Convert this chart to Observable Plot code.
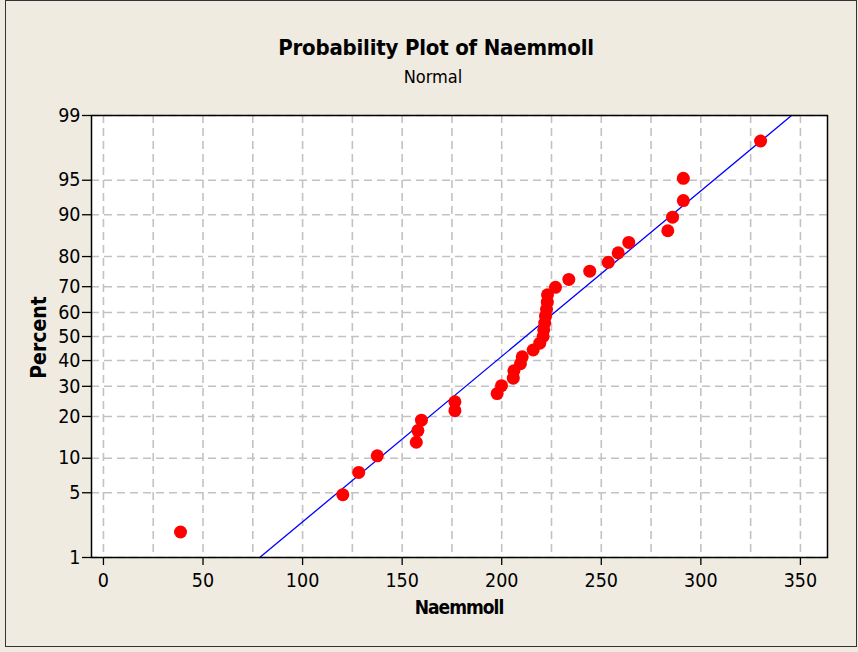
<!DOCTYPE html>
<html>
<head>
<meta charset="utf-8">
<script src="https://cdn.jsdelivr.net/npm/d3@7"></script>
<script src="https://cdn.jsdelivr.net/npm/@observablehq/plot@0.6"></script>
<style>
  html, body { margin: 0; padding: 0; background: #efebe1; width: 858px; height: 652px; overflow: hidden; }
  #page { position: relative; width: 858px; height: 652px; }
  #border { position: absolute; left: 5px; top: 0px; width: 852px; height: 647px; box-sizing: border-box; border: 1.5px solid #333; }
  .t { position: absolute; font-family: "DejaVu Sans Condensed", "DejaVu Sans", sans-serif; font-stretch: condensed; color: #000; white-space: nowrap; text-align: center; }
  #title { left: 236px; width: 400px; top: 37px; font-size: 22px; line-height: 22px; font-weight: bold; letter-spacing: -0.2px; }
  #subtitle { left: 333px; width: 200px; top: 68px; font-size: 18px; line-height: 18px; }
  #xlabel { left: 359px; width: 200px; top: 598px; font-size: 19px; line-height: 19px; font-weight: bold; letter-spacing: -1px; }
  #ylabel { left: -61px; width: 200px; top: 327px; font-size: 21px; line-height: 21px; font-weight: bold; transform: rotate(-90deg); transform-origin: 100px 10.5px; }
  #chart { position: absolute; left: 0; top: 0; }
</style>
</head>
<body>
<div id="page">
  <div id="border"></div>
  <div id="chart"></div>
  <div class="t" id="title">Probability Plot of Naemmoll</div>
  <div class="t" id="subtitle">Normal</div>
  <div class="t" id="xlabel">Naemmoll</div>
  <div class="t" id="ylabel">Percent</div>
</div>
<script>
// Data
const naemmoll = [38.7, 120.2, 128.2, 137.5, 157.1, 157.9, 159.7, 176.5, 176.5, 197.7,
  199.9, 205.8, 206.1, 209.4, 210.3, 215.8, 219.1, 220.8, 221.1, 221.6,
  222.0, 222.5, 222.9, 223.0, 227.0, 233.7, 244.2, 253.5, 258.5, 263.8,
  283.4, 285.8, 291.2, 291.2, 330.0];
const percent = [1.98, 4.80, 7.63, 10.45, 13.28, 16.10, 18.93, 21.75, 24.58, 27.40,
  30.23, 33.05, 35.88, 38.70, 41.53, 44.35, 47.18, 50.00, 52.82, 55.65,
  58.47, 61.30, 64.12, 66.95, 69.77, 72.60, 75.42, 78.25, 81.07, 83.90,
  86.72, 89.55, 92.37, 95.20, 98.02];
// Fitted normal line parameters (mean, standard deviation)
const fitMean = 212.0;
const fitSd = 57.4;
// Axis ticks
const xTicks = [0, 50, 100, 150, 200, 250, 300, 350];
const xGrid = [0, 25, 50, 75, 100, 125, 150, 175, 200, 225, 250, 275, 300, 325, 350];
const yTicks = [1, 5, 10, 20, 30, 40, 50, 60, 70, 80, 90, 95, 99];

// Inverse standard normal CDF (Acklam's approximation) for the probability scale
function probit(p) {
  const a = [-3.969683028665376e+01, 2.209460984245205e+02, -2.759285104469687e+02, 1.383577518672690e+02, -3.066479806614716e+01, 2.506628277459239e+00];
  const b = [-5.447609879822406e+01, 1.615858368580409e+02, -1.556989798598866e+02, 6.680131188771972e+01, -1.328068155288572e+01];
  const c = [-7.784894002430293e-03, -3.223964580411365e-01, -2.400758277161838e+00, -2.549732539343734e+00, 4.374664141464968e+00, 2.938163982698783e+00];
  const d = [7.784695709041462e-03, 3.224671290700398e-01, 2.445134137142996e+00, 3.754408661907416e+00];
  const pl = 0.02425;
  let q, r;
  if (p < pl) {
    q = Math.sqrt(-2 * Math.log(p));
    return (((((c[0]*q+c[1])*q+c[2])*q+c[3])*q+c[4])*q+c[5]) / ((((d[0]*q+d[1])*q+d[2])*q+d[3])*q+1);
  }
  if (p <= 1 - pl) {
    q = p - 0.5; r = q * q;
    return (((((a[0]*r+a[1])*r+a[2])*r+a[3])*r+a[4])*r+a[5])*q / (((((b[0]*r+b[1])*r+b[2])*r+b[3])*r+b[4])*r+1);
  }
  q = Math.sqrt(-2 * Math.log(1 - p));
  return -(((((c[0]*q+c[1])*q+c[2])*q+c[3])*q+c[4])*q+c[5]) / ((((d[0]*q+d[1])*q+d[2])*q+d[3])*q+1);
}

const points = naemmoll.map((v, i) => ({x: v, z: probit(percent[i] / 100)}));
const zLo = probit(0.01), zHi = probit(0.99);
const fitLine = [zLo, zHi].map(z => ({x: fitMean + fitSd * z, z}));
const yTickZ = yTicks.map(p => probit(p / 100));
const fmtY = z => { const i = yTickZ.findIndex(t => Math.abs(t - z) < 1e-9); return i >= 0 ? String(yTicks[i]) : ""; };

const gridStyle = {stroke: "#c2c2c2", strokeOpacity: 1, strokeWidth: 1.6, strokeDasharray: "8,5"};

const chart = Plot.plot({
  width: 858,
  height: 652,
  marginLeft: 91,
  marginRight: 31,
  marginTop: 115,
  marginBottom: 95,
  style: {background: "transparent", fontFamily: "'DejaVu Sans Condensed', 'DejaVu Sans', sans-serif", fontStretch: "condensed", fontSize: "19px", color: "#000", overflow: "visible"},
  x: {domain: [-6, 363.6]},
  y: {domain: [zLo, zHi]},
  marks: [
    Plot.frame({fill: "white"}),
    Plot.gridX(xGrid, gridStyle),
    Plot.gridY(yTickZ, gridStyle),
    Plot.line(fitLine, {x: "x", y: "z", stroke: "#0000ff", strokeWidth: 1.3}),
    Plot.dot(points, {x: "x", y: "z", r: 6.5, fill: "#ff0000", stroke: "none"}),
    Plot.frame({stroke: "#000", strokeWidth: 1.5}),
    Plot.axisX(xTicks, {tickSize: 8, tickPadding: 8, fontSize: 19.5, label: null, stroke: "#000", strokeWidth: 1.3, fill: "#000"}),
    Plot.axisY(yTickZ, {tickSize: 9, tickPadding: 2, fontSize: 19.5, tickFormat: fmtY, label: null, stroke: "#000", strokeWidth: 1.3, fill: "#000"})
  ]
});
document.getElementById("chart").appendChild(chart);
</script>
</body>
</html>
